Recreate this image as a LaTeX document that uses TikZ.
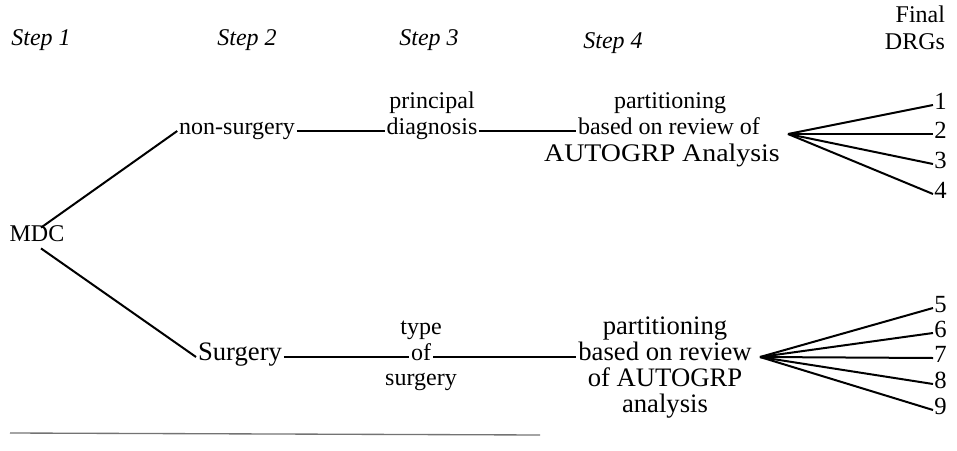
\documentclass[tikz,border=0pt]{standalone}
\usepackage{fontspec}
\setmainfont{Liberation Serif}
\newfontfamily\wideserif[FakeStretch=1.1]{Liberation Serif}
\begin{document}
\begin{tikzpicture}[x=0.75pt,y=-0.75pt,
  txt/.style={inner sep=0pt, outer sep=1.5pt, text height=0.71em, text depth=0.25em,
              font=\fontsize{18}{20}\selectfont},
  big/.style={txt, font=\fontsize{20}{22}\selectfont},
  hdr/.style={txt, font=\fontsize{18}{20}\selectfont\itshape},
  num/.style={inner sep=0pt, outer sep=1pt, anchor=west, text height=0.68em, text depth=0pt,
              font=\fontsize{18.5}{20}\selectfont},
  wire/.style={line width=1.5pt},
  fan/.style={line width=1.5pt},
  rule/.style={line width=1pt, draw=black!55}]
\useasboundingbox (0,0) rectangle (957,450);

% column headings
\node[hdr] (s1) at (41,42) {Step 1};
\node[hdr] (s2) at (247,42) {Step 2};
\node[hdr] (s3) at (429,42) {Step 3};
\node[hdr] (s4) at (613,45) {Step 4};
\node[txt, anchor=east] (fin) at (947,19) {Final};
\node[txt, anchor=east] (drg) at (947,46) {DRGs};

% root
\node[txt, outer sep=3pt] (mdc) at (37,238) {MDC};

% upper branch
\node[txt] (ns) at (237,131) {non-surgery};
\node[txt] (pdA) at (432,105) {principal};
\node[txt] (pdB) at (432,131) {diagnosis};
\node[txt] (upA) at (670,105) {partitioning};
\node[txt] (upB) at (669,131) {based on review of};
\node[txt, font=\fontsize{19}{20}\wideserif] (upC) at (662,158) {AUTOGRP Analysis};
\coordinate (tipU) at (788,134);
\node[num] (d1) at (933,105) {1};
\node[num] (d2) at (933,134) {2};
\node[num] (d3) at (933,164) {3};
\node[num] (d4) at (933,194) {4};

% lower branch
\node[big] (sg) at (240,357) {Surgery};
\node[txt] (tsA) at (421,331) {type};
\node[txt] (tsB) at (421,357) {of};
\node[txt] (tsC) at (421,382) {surgery};
\node[big] (lpA) at (665,331) {partitioning};
\node[big] (lpB) at (665,357) {based on review};
\node[big] (lpC) at (665,383) {of AUTOGRP};
\node[big] (lpD) at (665,409) {analysis};
\coordinate (tipL) at (760,357);
\node[num] (d5) at (933,308) {5};
\node[num] (d6) at (933,333) {6};
\node[num] (d7) at (933,358) {7};
\node[num] (d8) at (933,384) {8};
\node[num] (d9) at (933,410) {9};

% connectors
\draw[wire] ([xshift=3pt]mdc.north) -- (ns.west);
\draw[wire] ([xshift=3pt]mdc.south) -- (sg.west);
\draw[wire] (ns.east) -- (pdB.west);
\draw[wire] (pdB.east) -- (upB.west);
\draw[wire] (sg.east) -- (tsB.west);
\draw[wire] (tsB.east) -- (lpB.west);
\foreach \d in {d1,d2,d3,d4} \draw[fan] (tipU) -- (\d.west);
\foreach \d in {d5,d6,d7,d8,d9} \draw[fan] (tipL) -- (\d.west);

% rule under the figure
\coordinate (ruleL) at (10,433);
\coordinate (ruleR) at (540,435);
\draw[rule] (ruleL) -- (ruleR);
\end{tikzpicture}
\end{document}
